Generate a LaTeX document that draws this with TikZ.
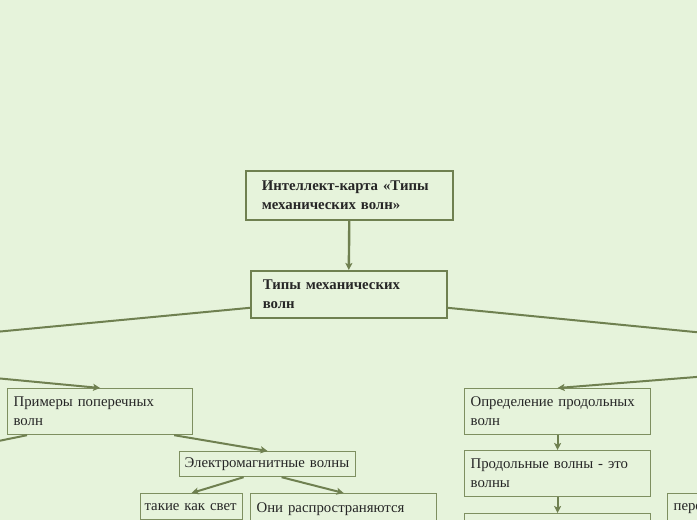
\documentclass[tikz,border=0pt]{standalone}
\usepackage{fontspec}
\setmainfont{Liberation Serif}
\usetikzlibrary{arrows.meta,positioning}
\definecolor{bgc}{HTML}{E6F3DB}
\definecolor{boxc}{HTML}{7E8F60}
\definecolor{linec}{HTML}{6F8050}

\begin{document}
\begin{tikzpicture}[
    x=1pt, y=-1pt,
    box/.style={draw=boxc, line width=1.2pt, fill=bgc, anchor=north west, align=left, inner xsep=6pt, inner ysep=2pt, font=\fontsize{14.8}{19}\selectfont, text=black!85},
    mainbox/.style={box, draw=linec, line width=1.6pt, font=\fontsize{14.8}{19}\selectfont\bfseries},
    arrow/.style={-{Stealth[length=7pt,width=7pt,inset=1.5pt]}, draw=linec, line width=2pt},
    link/.style={draw=linec, line width=2pt}
]
\useasboundingbox (0,0) rectangle (697,520);
\fill[bgc] (0,0) rectangle (697,520);
\clip (0,0) rectangle (697,520);

% Top
\node[mainbox, inner xsep=16pt, text width=175pt, minimum height=49pt] (title) at (245,170) {Интеллект-карта «Типы\\механических волн»};
\node[mainbox, inner xsep=12pt, text width=172pt, minimum height=47pt] (types) at (250,270) {Типы механических\\волн};

% Left branch
\node[box, text width=173pt, minimum height=46pt] (primery) at (7,388) {Примеры поперечных\\волн};
\node[box, inner xsep=5pt, text width=166pt, minimum height=25pt] (em) at (179,451) {Электромагнитные волны};
\node[box, inner xsep=4pt, text width=94pt, minimum height=26pt] (takie) at (140,493) {такие как свет};
\node[box, text width=174pt, minimum height=52pt] (oni) at (250,493) {Они распространяются\\\strut};

% Right branch
\node[box, text width=174pt, minimum height=46pt] (opr) at (464,388) {Определение продольных\\волн};
\node[box, text width=174pt, minimum height=46pt] (prod) at (464,450) {Продольные волны - это\\волны};
\node[box, text width=174pt, minimum height=40pt] (third) at (464,513) {};
\node[box, text width=110pt, minimum height=52pt] (cut) at (667,493) {перенос\\\strut};

% Points outside the frame
\coordinate (leftup) at (-100,341);
\coordinate (rightup) at (797,342);
\coordinate (leftsrc) at (-100,369);
\coordinate (leftdown) at (-100,461);
\coordinate (rightsrc) at (797,369);

% Connectors
\draw[arrow, line width=2.4pt] (title.south) -- (types.north);
\draw[link] ([yshift=-13.5pt]types.west) -- (leftup);
\draw[link] ([yshift=-13.5pt]types.east) -- (rightup);

\draw[arrow] (leftsrc) -- (primery.north);
\draw[link] ([xshift=20pt]primery.south west) -- (leftdown);
\draw[arrow] ([xshift=-19pt]primery.south east) -- (em.north);
\draw[arrow] ([xshift=-24pt]em.south) -- (takie.north);
\draw[arrow] ([xshift=14pt]em.south) -- (oni.north);

\draw[arrow] (rightsrc) -- (opr.north);
\draw[arrow] (opr.south) -- (prod.north);
\draw[arrow] (prod.south) -- (third.north);

\end{tikzpicture}
\end{document}
